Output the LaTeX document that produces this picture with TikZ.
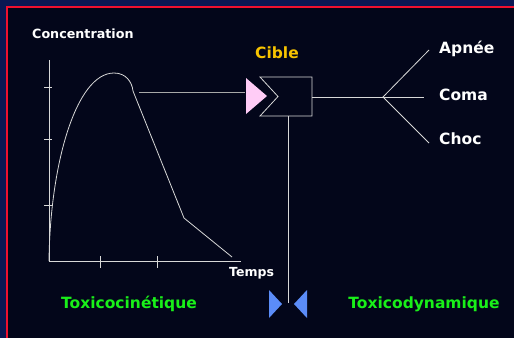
\documentclass[tikz,border=0pt]{standalone}
\usepackage{fontspec}
\setmainfont{DejaVu Sans}
\definecolor{outerbg}{HTML}{0B1752}
\definecolor{innerbg}{HTML}{03061A}
\definecolor{slideedge}{RGB}{240,16,46}
\definecolor{axis}{HTML}{D8D8D8}
\definecolor{link}{HTML}{A8A8A8}
\definecolor{gold}{HTML}{F8C400}
\definecolor{lime}{HTML}{19F019}
\definecolor{pinkin}{HTML}{FFCCF6}
\definecolor{bluev}{HTML}{5B8CF8}
\tikzset{
  lbl/.style={font=\bfseries, text=white, inner sep=0pt},
  big/.style={lbl, font=\bfseries\fontsize{15.5}{15.5}\selectfont},
  green/.style={lbl, text=lime, font=\bfseries\fontsize{15.5}{15.5}\selectfont},
  thin/.style={draw=axis, line width=0.8pt},
}
\begin{document}
\begin{tikzpicture}[x=1pt,y=-1pt]
  % page and slide frame
  \useasboundingbox (0,0) rectangle (514,338);
  \fill[outerbg] (0,0) rectangle (514,338);
  \fill[innerbg] (7,7) rectangle (514,338);
  \fill[slideedge] (6,6) rectangle (8.2,338);
  \fill[slideedge] (6,6) rectangle (514,8.2);

  % axes
  \coordinate (o) at (49,261);
  \coordinate (ytop) at (49,60);
  \coordinate (xend) at (241,261);
  \draw[thin] (ytop) -- (o) -- (xend);
  \foreach \y in {87,139,205} \draw[thin] (44,\y) -- (52,\y);
  \foreach \x in {100,157} \draw[thin] (\x,256) -- (\x,268);

  % concentration curve
  \coordinate (peak) at (114,73);
  \coordinate (shoulder) at (133,91);
  \coordinate (knee) at (184,218);
  \coordinate (tail) at (232,257);
  \draw[axis, line width=0.8pt] (o) .. controls (50,165) and (76,73) .. (peak)
     .. controls (126,73) and (132,82) .. (shoulder) -- (knee) -- (tail);

  \node[lbl, anchor=west, font=\bfseries\fontsize{12.7}{12.7}\selectfont] (conc) at (32,34) {Concentration};
  \node[lbl, anchor=west, font=\bfseries\fontsize{12.5}{12.5}\selectfont] (temps) at (229,273) {Temps};

  % target receptor
  \coordinate (rtl) at (260,77);
  \coordinate (rtr) at (312,77);
  \coordinate (rbr) at (312,116);
  \coordinate (rbl) at (260,116);
  \coordinate (notch) at (278,96.5);
  \draw[axis, line width=0.8pt] (rtl) -- (rtr) -- (rbr) -- (rbl) -- (notch) -- cycle;
  \fill[pinkin] (246,78) -- (246,114) -- (267,96) -- cycle;
  \coordinate (arrA) at (139,92);
  \coordinate (arrB) at (245,92);
  \draw[link, line width=1pt] (arrA) -- (arrB);
  \node[big, text=gold] (cible) at (277,53) {Cible};

  % effects
  \coordinate (rout) at (312,97);
  \coordinate (fork) at (383,97);
  \coordinate (e1) at (429,50);
  \coordinate (e2) at (424,97);
  \coordinate (e3) at (429,143);
  \draw[axis, line width=0.8pt] (rout) -- (fork);
  \draw[axis, line width=0.8pt] (e1) -- (fork) -- (e3);
  \draw[axis, line width=0.8pt] (fork) -- (e2);
  \node[big, anchor=west] (apnee) at (439,49) {Apnée};
  \node[big, anchor=west] (coma) at (439,95) {Coma};
  \node[big, anchor=west] (choc) at (439,139) {Choc};

  % interface between the two fields
  \coordinate (vtop) at (288,116);
  \coordinate (vbot) at (288,303);
  \draw[axis, line width=0.8pt] (vtop) -- (vbot);
  \fill[bluev] (269,290) -- (269,318) -- (282,304) -- cycle;
  \fill[bluev] (307,290) -- (307,318) -- (294,304) -- cycle;

  \node[green] (tk) at (129,304) {Toxicocinétique};
  \node[green] (td) at (424,304) {Toxicodynamique};
\end{tikzpicture}
\end{document}
